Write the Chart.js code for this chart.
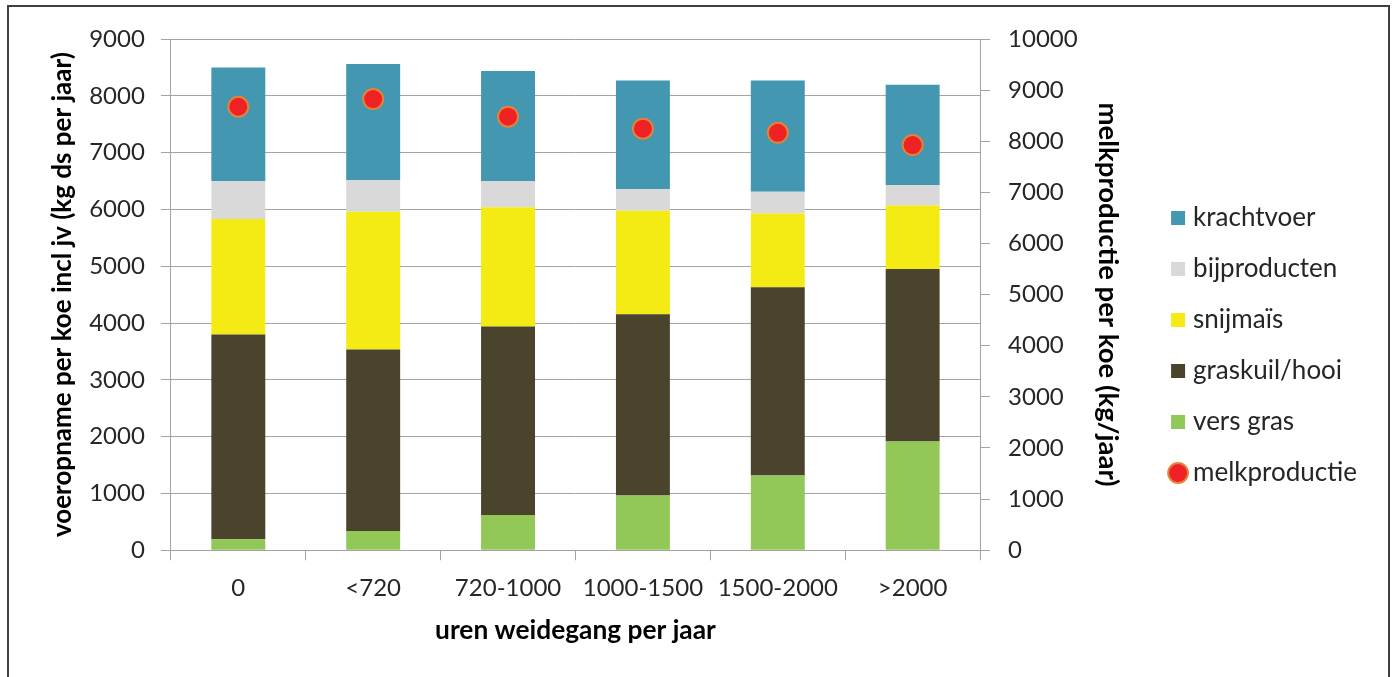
<!DOCTYPE html>
<html>
<head>
<meta charset="utf-8">
<script src="https://cdn.jsdelivr.net/npm/chart.js@4.4.1/dist/chart.umd.min.js"></script>
<style>
  body { margin: 0; background: #fff; }
  #wrap { position: relative; width: 1394px; height: 677px; overflow: hidden; }
  #frame { position: absolute; left: 7px; top: 5px; width: 1379px; height: 700px; border: 2px solid #404040; border-bottom: none; }
  canvas { position: absolute; left: 0; top: 0; }
</style>
</head>
<body>
<div id="wrap">
  <div id="frame"></div>
  <canvas id="chart" width="1394" height="677"></canvas>
</div>
<script>
// uren weidegang per jaar
const categories = ['0', '<720', '720-1000', '1000-1500', '1500-2000', '>2000'];

// voeropname per koe (kg ds per jaar), per onderdeel
const versGras     = [195, 340, 620, 965, 1315, 1915];
const graskuilHooi = [3605, 3195, 3320, 3190, 3315, 3035];
const snijmais     = [2030, 2425, 2100, 1820, 1300, 1120];
const bijproducten = [670, 560, 460, 380, 380, 360];
const krachtvoer   = [2000, 2040, 1935, 1915, 1960, 1765];

// melkproductie per koe (kg/jaar), rechter as
const melkproductie = [8675, 8825, 8480, 8245, 8165, 7925];

// legend shows the stack top-down, then the dots
const legendOrder = [4, 3, 2, 1, 0, 5];

const gridColor = '#a3a3a3';
const textColor = '#262626';
const tickFont = { family: 'Lato', size: 24 };
const plainNumber = function (value) { return value; };

const ctx = document.getElementById('chart').getContext('2d');
new Chart(ctx, {
    type: 'bar',
    data: {
        labels: categories,
        datasets: [{
            label: 'vers gras',
            data: versGras,
            backgroundColor: '#92c857',
            order: 1
        }, {
            label: 'graskuil/hooi',
            data: graskuilHooi,
            backgroundColor: '#4a442c',
            order: 1
        }, {
            label: 'snijmaïs',
            data: snijmais,
            backgroundColor: '#f5eb14',
            order: 1
        }, {
            label: 'bijproducten',
            data: bijproducten,
            backgroundColor: '#d9d9d9',
            order: 1
        }, {
            label: 'krachtvoer',
            data: krachtvoer,
            backgroundColor: '#4397b0',
            order: 1
        }, {
            type: 'line',
            label: 'melkproductie',
            data: melkproductie,
            yAxisID: 'y1',
            showLine: false,
            backgroundColor: '#ee2224',
            borderColor: '#e3833a',
            pointBackgroundColor: '#ee2224',
            pointBorderColor: '#e3833a',
            pointBorderWidth: 2,
            pointRadius: 10,
            pointHoverRadius: 10,
            order: 0
        }]
    },
    options: {
        responsive: false,
        animation: false,
        categoryPercentage: 1,
        barPercentage: 0.4,
        layout: {
            padding: { left: 47, top: 39, right: 27, bottom: 25 }
        },
        scales: {
            x: {
                stacked: true,
                grid: { drawOnChartArea: false, tickLength: 10, color: gridColor },
                border: { color: gridColor },
                ticks: { font: tickFont, color: textColor, padding: 14 },
                title: {
                    display: true, text: 'uren weidegang per jaar', color: '#000',
                    font: { family: 'Lato', size: 26.3, weight: 'bold' },
                    padding: { top: -2, bottom: 5.4 }
                }
            },
            y: {
                stacked: true,
                min: 0,
                max: 9000,
                grid: { tickLength: 10, color: gridColor },
                border: { color: gridColor },
                ticks: { stepSize: 1000, font: tickFont, color: textColor, padding: 16, callback: plainNumber },
                title: {
                    display: true, text: 'voeropname per koe incl jv (kg ds per jaar)', color: '#000',
                    font: { family: 'Lato', size: 26, weight: 'bold' },
                    padding: { top: 0, bottom: -5 }
                }
            },
            y1: {
                position: 'right',
                min: 0,
                max: 10000,
                grid: { drawOnChartArea: false, tickLength: 10, color: gridColor },
                border: { color: gridColor },
                ticks: { stepSize: 1000, font: tickFont, color: textColor, padding: 18, callback: plainNumber },
                title: {
                    display: true, text: 'melkproductie per koe (kg/jaar)', color: '#000',
                    font: { family: 'Lato', size: 27.5, weight: 'bold' },
                    padding: { top: 26.4, bottom: -4 }
                }
            }
        },
        plugins: {
            legend: {
                position: 'right',
                labels: {
                    usePointStyle: true,
                    boxWidth: 4,
                    boxHeight: 14,
                    padding: 25,
                    font: { family: 'Lato', size: 26 },
                    color: textColor,
                    generateLabels: function (chart) {
                        const items = Chart.defaults.plugins.legend.labels.generateLabels(chart);
                        return legendOrder.map(function (i) {
                            const item = items.find(function (it) { return it.datasetIndex === i; });
                            item.pointStyle = i === 5 ? 'circle' : 'rect';
                            return item;
                        });
                    }
                }
            },
            tooltip: { enabled: false }
        }
    }
});
</script>
</body>
</html>
